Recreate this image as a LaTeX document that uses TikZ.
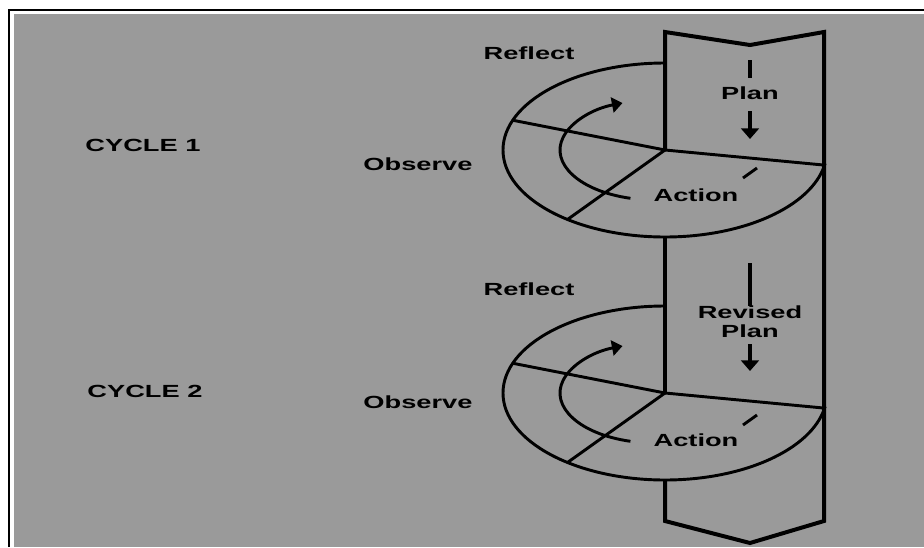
\documentclass[tikz,border=0pt]{standalone}
\usepackage{graphicx}
\usepackage{fontspec}
\setmainfont{Liberation Sans}
\usetikzlibrary{arrows.meta}
\definecolor{paper}{RGB}{154,154,154}
\newcommand{\WIDE}[1]{\scalebox{1.55}[1]{#1}}
\tikzset{
	lbl/.style={font=\fontsize{15}{16}\selectfont\bfseries, inner sep=0pt},
	colline/.style={line width=3.4pt, line join=miter},
	ring/.style={line width=2.5pt},
	flow/.style={line width=3.2pt, -{Triangle[width=15pt, length=9pt]}},
	turn/.style={line width=2.5pt, -{Triangle[width=13pt, length=9pt]}}
}
\begin{document}
\begin{tikzpicture}[x=0.03cm, y=-0.03cm]
		\useasboundingbox (0, 0) rectangle (924, 547);
		\fill[white] (0, 0) rectangle (924, 547);
		\draw[line width=1.7pt] (9, 547) -- (9, 10) -- (924, 10);
		\fill[paper] (14, 14) rectangle (924, 547);

		\coordinate (c1) at (665, 150);
		\coordinate (c2) at (665, 393);
		\coordinate (i1) at (655, 150);
		\coordinate (i2) at (655, 393);

		\draw[colline] (c1) -- (665, 32) -- (750, 45) -- (824, 32) -- (824, 521) -- (750, 543) -- (665, 521) -- (665, 479);
		\draw[colline] (665, 236) -- (c2);

		\draw[ring] (c1) ++(-90:162 and 87) arc[start angle=-90, end angle=-350, x radius=162, y radius=87] -- (c1);
		\draw[ring] (c1) -- ++(200:162 and 87);
		\draw[ring] (c1) -- ++(127:162 and 87);
		\draw[turn] (i1) ++(105:95 and 50) arc[start angle=105, end angle=250, x radius=95, y radius=50];

		\draw[ring] (c2) ++(-90:162 and 87) arc[start angle=-90, end angle=-350, x radius=162, y radius=87] -- (c2);
		\draw[ring] (c2) -- ++(200:162 and 87);
		\draw[ring] (c2) -- ++(127:162 and 87);
		\draw[turn] (i2) ++(105:95 and 50) arc[start angle=105, end angle=250, x radius=95, y radius=50];

		\node[lbl] (cyc1) at (143, 145) {\WIDE{CYCLE 1}};
		\node[lbl] (cyc2) at (145, 391) {\WIDE{CYCLE 2}};
		\node[lbl] (refl1) at (529, 53) {\WIDE{Reflect}};
		\node[lbl] (refl2) at (529, 289) {\WIDE{Reflect}};
		\node[lbl] (obs1) at (418, 164) {\WIDE{Observe}};
		\node[lbl] (obs2) at (418, 402) {\WIDE{Observe}};
		\node[lbl] (act1) at (696, 195) {\WIDE{Action}};
		\node[lbl] (act2) at (696, 440) {\WIDE{Action}};
		\node[lbl] (plan1) at (750, 93) {\WIDE{Plan}};
		\node[lbl] (plan2) at (750, 324) {\WIDE{\begin{tabular}{@{}c@{}}Revised\\Plan\end{tabular}}};

		\coordinate (d1a) at (750, 60);
		\coordinate (d1b) at (750, 78);
		\coordinate (e1a) at (750, 111);
		\coordinate (e1b) at (750, 139);
		\coordinate (t1a) at (743, 178);
		\coordinate (t1b) at (757, 168);
		\coordinate (d2a) at (750, 263);
		\coordinate (d2b) at (750, 306);
		\coordinate (e2a) at (750, 344);
		\coordinate (e2b) at (750, 371);
		\coordinate (t2a) at (743, 425);
		\coordinate (t2b) at (757, 415);

		\draw[line width=3.2pt] (d1a) -- (d1b);
		\draw[flow] (e1a) -- (e1b);
		\draw[ring] (t1a) -- (t1b);
		\draw[line width=3.2pt] (d2a) -- (d2b);
		\draw[flow] (e2a) -- (e2b);
		\draw[ring] (t2a) -- (t2b);
	\end{tikzpicture}
\end{document}
